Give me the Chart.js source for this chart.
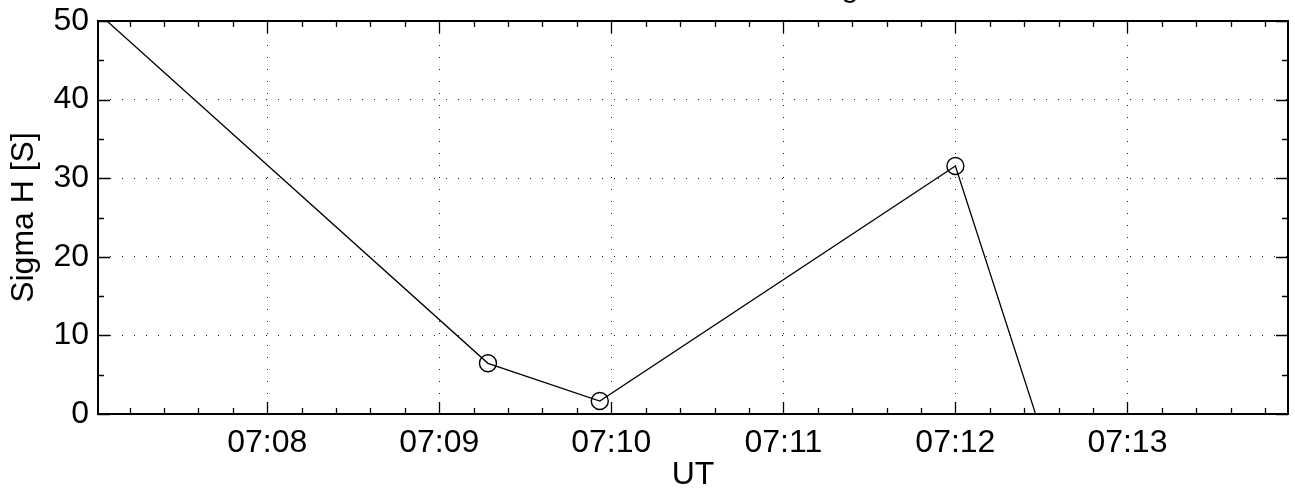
<!DOCTYPE html>
<html>
<head>
<meta charset="utf-8">
<script src="https://cdn.jsdelivr.net/npm/chart.js@4/dist/chart.umd.min.js"></script>
<style>
html,body{margin:0;padding:0;background:#fff;overflow:hidden;}
#c{display:block;}
</style>
</head>
<body>
<canvas id="c" width="1295" height="494"></canvas>
<script>
// Time in seconds since midnight (UT)
const times = [25620, 25757, 25796, 25920, 25960];
const sigmaH = [51.35, 6.45, 1.65, 31.55, -13.56];
const xMajorTicks = [25680, 25740, 25800, 25860, 25920, 25980]; // 07:08 .. 07:13
const yMajorTicks = [0, 10, 20, 30, 40, 50];
const xRange = [25621, 26036];
const yRange = [0, 50];
const xLabel = 'UT';
const yLabel = 'Sigma H [S]';
const titleText = 'g';

const FONT = "'Liberation Sans', Arial, Helvetica, sans-serif";
const FS = 32;

function fmtTime(v){
  const h = Math.floor(v/3600), m = Math.floor((v%3600)/60);
  return String(h).padStart(2,'0') + ':' + String(m).padStart(2,'0');
}

const boxTicks = {
  id: 'boxTicks',
  afterDatasetsDraw(chart){
    const {ctx, chartArea:a, scales:{x, y}} = chart;
    ctx.save();
    ctx.strokeStyle = '#000';
    ctx.lineWidth = 1.3;
    ctx.beginPath();
    for (let t = Math.ceil(x.min/12)*12; t <= x.max; t += 12){
      const px = Math.round(x.getPixelForValue(t)) + 0.5;
      const len = (t % 60 === 0) ? 12 : 6;
      ctx.moveTo(px, a.bottom); ctx.lineTo(px, a.bottom - len);
      ctx.moveTo(px, a.top); ctx.lineTo(px, a.top + len);
    }
    for (let v = y.min; v <= y.max; v += 5){
      const py = Math.round(y.getPixelForValue(v)) + 0.5;
      const len = (v % 10 === 0) ? 12 : 6;
      ctx.moveTo(a.left, py); ctx.lineTo(a.left + len, py);
      ctx.moveTo(a.right, py); ctx.lineTo(a.right - len, py);
    }
    ctx.stroke();
    ctx.lineWidth = 2;
    ctx.strokeRect(a.left, a.top, a.right - a.left, a.bottom - a.top);
    ctx.fillStyle = '#000';
    ctx.font = FS + "px " + FONT;
    ctx.textAlign = 'center';
    ctx.textBaseline = 'alphabetic';
    ctx.fillText(titleText, 850, -4);
    ctx.restore();
  }
};

new Chart(document.getElementById('c'), {
  type: 'line',
  data: {
    datasets: [{
      data: times.map((t, i) => ({x: t, y: sigmaH[i]})),
      borderColor: '#000',
      borderWidth: 1.3,
      backgroundColor: 'rgba(0,0,0,0)',
      pointRadius: 8.5,
      pointBorderWidth: 1.4,
      pointBorderColor: '#000',
      pointBackgroundColor: 'rgba(0,0,0,0)',
      tension: 0,
      fill: false
    }]
  },
  options: {
    responsive: false,
    animation: false,
    devicePixelRatio: 1,
    layout: {autoPadding: false, padding: {top: 21, right: 7, left: 0, bottom: 0}},
    plugins: {legend: {display: false}, tooltip: {enabled: false}},
    scales: {
      x: {
        type: 'linear',
        min: xRange[0], max: xRange[1],
        afterBuildTicks: s => { s.ticks = xMajorTicks.map(v => ({value: v})); },
        afterFit: s => { s.height = 80; s.paddingLeft = 0; s.paddingRight = 0; },
        ticks: {callback: v => fmtTime(v), font: {size: FS, family: FONT}, color: '#000', padding: 10, maxRotation: 0, autoSkip: false},
        grid: {drawTicks: false, color: '#222', lineWidth: 1},
        border: {display: false, dash: [1, 11]},
        title: {display: true, text: xLabel, color: '#000', font: {size: FS, family: FONT}, padding: {top: 0, bottom: 0}}
      },
      y: {
        type: 'linear',
        min: yRange[0], max: yRange[1],
        afterBuildTicks: s => { s.ticks = yMajorTicks.map(v => ({value: v})); },
        afterFit: s => { s.width = 98; s.paddingTop = 0; s.paddingBottom = 0; },
        ticks: {font: {size: FS, family: FONT}, color: '#000', padding: 9},
        grid: {drawTicks: false, color: '#222', lineWidth: 1},
        border: {display: false, dash: [1, 11]},
        title: {display: true, text: yLabel, color: '#000', font: {size: FS, family: FONT}, padding: {top: 5, bottom: 0}}
      }
    }
  },
  plugins: [boxTicks]
});
</script>
</body>
</html>
